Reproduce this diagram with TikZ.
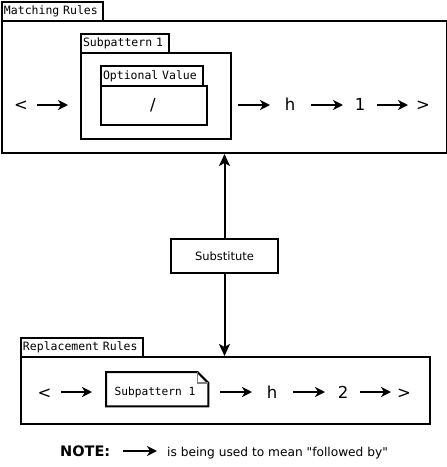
\documentclass[tikz,border=0pt]{standalone}
\usepackage{fontspec}
\setmainfont{DejaVu Sans}[Ligatures=TeXOff]
\newfontfamily\monof{DejaVu Sans Mono}[Ligatures=TeXOff,WordSpace={1,0,0}]
\usetikzlibrary{arrows.meta}
\begin{document}
\begin{tikzpicture}[x=1pt,y=-1pt,
  frame/.style={draw,line width=2pt,inner sep=0pt,anchor=north west},
  tab/.style={draw,line width=2pt,anchor=north west,inner xsep=2pt,inner ysep=0pt,align=left,font=\monof\fontsize{11.5}{13}\selectfont},
  sym/.style={anchor=base,inner sep=0pt,font=\fontsize{16.5}{18}\selectfont},
  flow/.style={line width=2pt,-{Stealth[length=10pt,width=10pt,inset=3pt]}},
  link/.style={line width=2pt,-{Stealth[length=12pt,width=11pt,inset=3pt]}}]
\useasboundingbox (0,0) rectangle (447,467);

% Matching rules
\node[tab,text width=97pt,minimum height=19pt] (mtab) at (1,1) {Matching Rules};
\node[frame,minimum width=445pt,minimum height=132pt] (mbox) at (1,20) {};
\node[tab,text width=84pt,minimum height=19pt] (stab) at (80,33) {Subpattern 1};
\node[frame,minimum width=150pt,minimum height=86pt] (sbox) at (80,52) {};
\node[tab,text width=98pt,minimum height=20pt] (otab) at (100,65) {Optional Value};
\node[frame,minimum width=106pt,minimum height=39pt] (obox) at (100,85) {};
\node[sym] (slash) at (153,110) {/};

\node[sym] (lt1) at (21,110) {<};
\node[sym] (h1) at (290,110) {h};
\node[sym] (one) at (360,110) {1};
\node[sym] (gt1) at (423,110) {>};
\coordinate (a1s) at (37,105);  \coordinate (a1e) at (68,105);
\coordinate (a2s) at (238,105); \coordinate (a2e) at (270,105);
\coordinate (a3s) at (311,105); \coordinate (a3e) at (343,105);
\coordinate (a4s) at (377,105); \coordinate (a4e) at (408,105);
\draw[flow] (a1s) -- (a1e);
\draw[flow] (a2s) -- (a2e);
\draw[flow] (a3s) -- (a3e);
\draw[flow] (a4s) -- (a4e);

% Substitute
\node[frame,anchor=north west,minimum width=107pt,minimum height=34pt,font=\fontsize{11.5}{13}\selectfont] (sub) at (170,238) {Substitute};

% Replacement rules
\node[tab,text width=118pt,minimum height=19pt] (rtab) at (20,337) {Replacement Rules};
\node[frame,minimum width=409pt,minimum height=67pt] (rbox) at (20,356) {};

\node[anchor=north west,inner sep=0pt,minimum width=102pt,minimum height=34pt] (note) at (106,372) {};
\draw[line width=2pt,line join=miter] (note.north west) -- ([xshift=-11pt]note.north east) -- ([yshift=-11pt]note.north east) -- (note.south east) -- (note.south west) -- cycle;
\draw[line width=1.3pt,gray] ([xshift=-11pt]note.north east) -- ([xshift=-11pt,yshift=-11pt]note.north east) -- ([yshift=-11pt]note.north east);
\node[inner sep=0pt,font=\monof\fontsize{11.2}{13}\selectfont] (notetext) at (155,392.5) {Subpattern 1};

\node[sym] (lt2) at (44.5,398) {<};
\node[sym] (h2) at (272,398) {h};
\node[sym] (two) at (343,398) {2};
\node[sym] (gt2) at (404,398) {>};
\coordinate (b1s) at (61,392);  \coordinate (b1e) at (92,392);
\coordinate (b2s) at (220,392); \coordinate (b2e) at (252,392);
\coordinate (b3s) at (293,392); \coordinate (b3e) at (325,392);
\coordinate (b4s) at (360,392); \coordinate (b4e) at (391,392);
\draw[flow] (b1s) -- (b1e);
\draw[flow] (b2s) -- (b2e);
\draw[flow] (b3s) -- (b3e);
\draw[flow] (b4s) -- (b4e);

% connectors
\draw[link] (sub.north) -- (sub.north |- mbox.south);
\draw[link] (sub.south) -- (sub.south |- rbox.north);

% note
\node[anchor=base west,inner sep=0pt,font=\bfseries\fontsize{14.5}{16}\selectfont] (notelbl) at (60,456) {NOTE:};
\coordinate (ns) at (123,451); \coordinate (ne) at (157,451);
\draw[flow] (ns) -- (ne);
\node[anchor=base west,inner sep=0pt,font=\fontsize{12.2}{14}\selectfont] (notetxt) at (167,456) {is being used to mean "followed by"};
\end{tikzpicture}
\end{document}
